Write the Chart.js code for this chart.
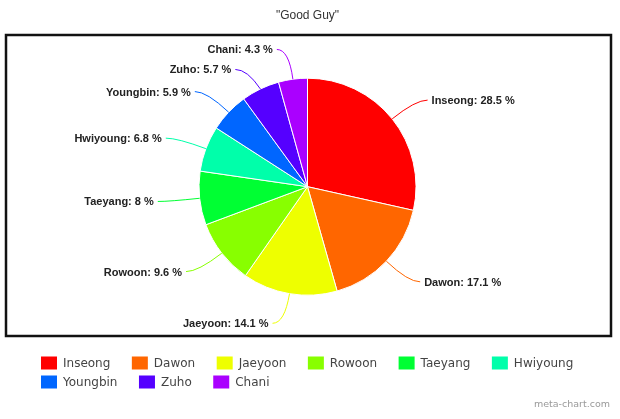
<!DOCTYPE html>
<html>
<head>
<meta charset="utf-8">
<script src="https://cdn.jsdelivr.net/npm/chart.js@4"></script>
<style>
  body { margin: 0; background: #fff; }
  #wrap { width: 620px; height: 419px; }
</style>
</head>
<body>
<div id="wrap"><canvas id="myChart" width="620" height="419"></canvas></div>
<script>
const members = ['Inseong', 'Dawon', 'Jaeyoon', 'Rowoon', 'Taeyang', 'Hwiyoung', 'Youngbin', 'Zuho', 'Chani'];
const shares = [28.5, 17.1, 14.1, 9.6, 8, 6.8, 5.9, 5.7, 4.3];
const colors = ['#ff0000', '#ff6600', '#eeff00', '#88ff00', '#00ff33', '#00ffaa', '#0066ff', '#5500ff', '#aa00ff'];

// black frame round the pie + watermark
const framePlugin = {
  id: 'frame',
  beforeDraw(chart) {
    const c = chart.ctx;
    c.save();
    c.fillStyle = '#fff';
    c.fillRect(0, 0, chart.width, chart.height);
    c.strokeStyle = '#111';
    c.lineWidth = 2.5;
    c.strokeRect(6, 35, 605, 301);
    c.fillStyle = '#999';
    c.font = '9.5px "DejaVu Sans"';
    c.textAlign = 'right';
    c.textBaseline = 'middle';
    c.fillText('meta-chart.com', 610, 405);
    c.restore();
  }
};

// outside labels with curved leader lines
const labelPlugin = {
  id: 'outLabels',
  afterDatasetsDraw(chart) {
    const c = chart.ctx;
    const arcs = chart.getDatasetMeta(0).data;
    const items = arcs.map((arc, i) => {
      const mid = (arc.startAngle + arc.endAngle) / 2;
      const r = arc.outerRadius;
      const side = Math.cos(mid) >= 0 ? 1 : -1;
      return {
        i, side,
        x0: arc.x + Math.cos(mid) * r, y0: arc.y + Math.sin(mid) * r,
        x1: arc.x + Math.cos(mid) * (r + 30), y1: arc.y + Math.sin(mid) * (r + 30)
      };
    });
    // push overlapping labels apart, top to bottom per side
    [1, -1].forEach(s => {
      const list = items.filter(it => it.side === s).sort((a, b) => a.y1 - b.y1);
      for (let k = 1; k < list.length; k++) {
        if (list[k].y1 < list[k - 1].y1 + 20) list[k].y1 = list[k - 1].y1 + 20;
      }
    });
    c.save();
    c.font = 'bold 11px "Liberation Sans", Arial, sans-serif';
    c.textBaseline = 'middle';
    items.forEach(it => {
      const x2 = it.x1 + it.side * 12;
      c.strokeStyle = colors[it.i];
      c.lineWidth = 1;
      c.beginPath();
      c.moveTo(it.x0, it.y0);
      c.quadraticCurveTo(it.x1, it.y1, x2, it.y1);
      c.stroke();
      c.fillStyle = '#222';
      c.textAlign = it.side > 0 ? 'left' : 'right';
      c.fillText(members[it.i] + ': ' + shares[it.i] + ' %', x2 + it.side * 4, it.y1 + 1);
    });
    c.restore();
  }
};

// flowing legend under the frame
const legendPlugin = {
  id: 'flowLegend',
  afterDraw(chart) {
    const c = chart.ctx;
    c.save();
    c.font = '12px "DejaVu Sans"';
    c.textBaseline = 'middle';
    c.textAlign = 'left';
    let x = 41, y = 363;
    members.forEach((name, i) => {
      const w = 22 + c.measureText(name).width;
      if (x + w > 600) { x = 41; y += 19; }
      c.fillStyle = colors[i];
      c.fillRect(x, y - 6.5, 16, 13);
      c.fillStyle = '#444';
      c.fillText(name, x + 22, y + 1);
      x += w + 21.5;
    });
    c.restore();
  }
};

new Chart(document.getElementById('myChart'), {
  type: 'pie',
  data: {
    labels: members,
    datasets: [{
      data: shares,
      backgroundColor: colors,
      borderColor: '#fff',
      borderWidth: 1
    }]
  },
  options: {
    responsive: false,
    animation: false,
    devicePixelRatio: 1,
    radius: 108.5,
    layout: { padding: { left: 26, right: 31, top: 0, bottom: 76 } },
    plugins: {
      legend: { display: false },
      tooltip: { enabled: false },
      title: {
        display: true,
        text: '"Good Guy"',
        color: '#333',
        font: { family: '"Liberation Sans", Arial, sans-serif', size: 12, weight: 'normal' },
        padding: { top: 8, bottom: 8 }
      }
    }
  },
  plugins: [framePlugin, labelPlugin, legendPlugin]
});
</script>
</body>
</html>
